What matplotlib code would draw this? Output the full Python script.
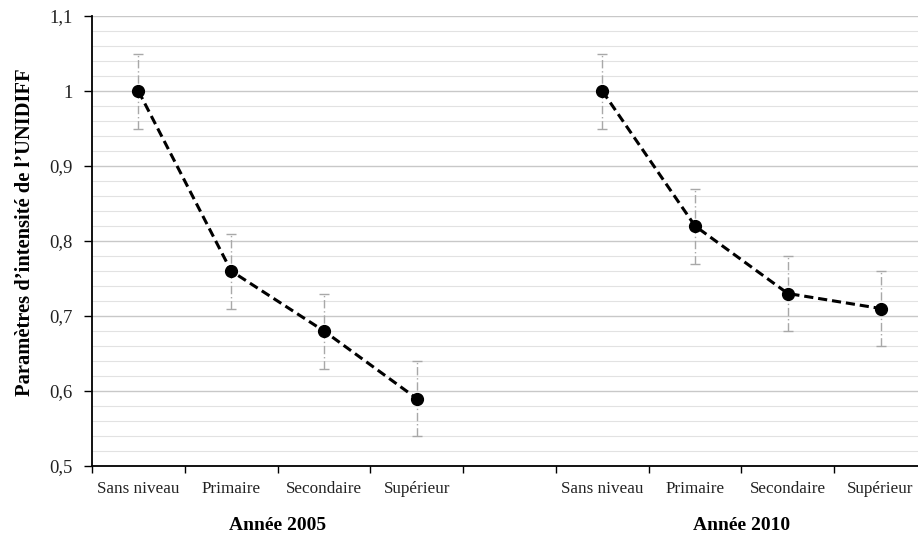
import numpy as np
import matplotlib
matplotlib.use("Agg")
import matplotlib.pyplot as plt
from matplotlib.ticker import MultipleLocator, FuncFormatter

plt.rcParams['font.family'] = ['Liberation Serif', 'DejaVu Serif']

categories = ['Sans niveau', 'Primaire', 'Secondaire', 'Supérieur']
groups = ['Année 2005', 'Année 2010']
vals_2005 = [1.0, 0.76, 0.68, 0.59]
vals_2010 = [1.0, 0.82, 0.73, 0.71]
err_2005 = [0.05, 0.05, 0.05, 0.05]
err_2010 = [0.05, 0.05, 0.05, 0.05]

fig = plt.figure(figsize=(9.18, 5.36), dpi=100)
ax = fig.add_axes([92 / 918, 1 - 466 / 536, 835 / 918, 450 / 536])

x05 = np.arange(4)
x10 = np.arange(4) + 5

for xs, vals, errs in [(x05, vals_2005, err_2005), (x10, vals_2010, err_2010)]:
    eb = ax.errorbar(xs, vals, yerr=errs, fmt='none', ecolor='#a8a8a8',
                     elinewidth=1, capsize=3.5, capthick=1, zorder=2)
    eb[2][0].set_linestyle((0, (6, 2, 1, 2)))
    ax.plot(xs, vals, color='black', linestyle=(0, (3, 1.6)), linewidth=2.2,
            marker='o', markersize=8.5, zorder=3)

ax.set_xlim(-0.5, 8.5)
ax.set_ylim(0.5, 1.1)

# grid lines
ax.yaxis.set_major_locator(MultipleLocator(0.1))
ax.yaxis.set_minor_locator(MultipleLocator(0.02))
ax.grid(axis='y', which='major', color='#c8c8c8', linewidth=1.0, zorder=0)
ax.grid(axis='y', which='minor', color='#e2e2e2', linewidth=0.8, zorder=0)
ax.set_axisbelow(True)

def fmt(v, pos):
    s = ('%.1f' % v).rstrip('0').rstrip('.')
    return s.replace('.', ',')

ax.yaxis.set_major_formatter(FuncFormatter(fmt))
ax.tick_params(axis='y', which='major', length=6, width=1, labelsize=13.5,
               direction='out', pad=8, labelcolor='#222222')
ax.tick_params(axis='y', which='minor', length=0)

# x ticks at boundaries, labels at centres
ax.set_xticks(np.arange(-0.5, 9, 1.0))
ax.set_xticklabels([])
ax.set_xticks(list(x05) + list(x10), minor=True)
ax.set_xticklabels(categories + categories, minor=True)
ax.tick_params(axis='x', which='major', length=5, width=1, direction='out')
ax.tick_params(axis='x', which='minor', length=0, labelsize=12.3, pad=10.5,
               labelcolor='#222222')

for s in ['top', 'right']:
    ax.spines[s].set_visible(False)
ax.spines['left'].set_linewidth(1.3)
ax.spines['bottom'].set_linewidth(1.3)

ax.set_ylabel("Paramètres d\u2019intensité de l\u2019UNIDIFF", fontsize=14.8,
              fontweight='bold', va='center')
ax.yaxis.set_label_coords(-0.08, 0.52)

ax.text(1.5, -0.132, groups[0], transform=ax.get_xaxis_transform(),
        ha='center', va='center', fontsize=14, fontweight='bold')
ax.text(6.5, -0.132, groups[1], transform=ax.get_xaxis_transform(),
        ha='center', va='center', fontsize=14, fontweight='bold')

fig.savefig('out.png', dpi=100)
